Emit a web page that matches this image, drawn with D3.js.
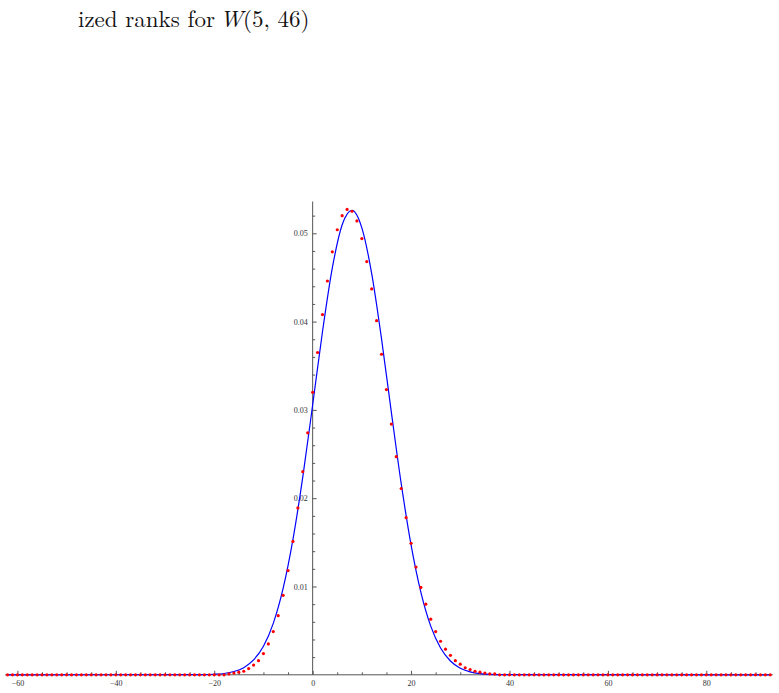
<!DOCTYPE html>
<html>
<head>
<meta charset="utf-8">
<script src="https://d3js.org/d3.v7.min.js"></script>
<style>
  body { margin: 0; background: #fff; }
  svg { display: block; }
  .caption { font-family: "Latin Modern Roman", "Liberation Serif", serif; font-size: 23px; fill: #111; }
  .tick text { font-family: "Times New Roman", "Liberation Serif", serif; font-size: 8px; fill: #333; }
</style>
</head>
<body>
<div id="plot"></div>
<script>
const svgWidth = 779;
const svgHeight = 693;

// Red points: one per centered rank, from -62 to 93
var rankStart = -62;
var rankProbs = [
  0, 0, 0, 0, 0, 0, 0, 0, 0, 0, 0, 0, 0, 0, 0,                 // -62 .. -48
  0, 0, 0, 0, 0, 0, 0, 0, 0, 0, 0, 0, 0, 0, 0,                 // -47 .. -33
  0, 0, 0, 0, 0, 0, 0, 0, 0, 0, 0, 0, 0, 0, 0,                 // -32 .. -18
  0.0001, 0.0002, 0.0003, 0.0004, 0.0007, 0.0011, 0.0016, 0.0024,   // -17 .. -10
  0.0035, 0.0049, 0.0067, 0.0090, 0.0118, 0.0151, 0.0189, 0.0230,   // -9 .. -2
  0.0274, 0.0320, 0.0365, 0.0408, 0.0446, 0.0479, 0.0504, 0.0520,   // -1 .. 6
  0.0527, 0.0525, 0.0514, 0.0494, 0.0468, 0.0437, 0.0401, 0.0363,   // 7 .. 14
  0.0323, 0.0284, 0.0247, 0.0211, 0.0178, 0.0149, 0.0122, 0.0099,   // 15 .. 22
  0.0080, 0.0063, 0.0049, 0.0038, 0.0029, 0.0022, 0.0016, 0.0012,   // 23 .. 30
  0.0008, 0.0006, 0.0004, 0.0003, 0.0002, 0.0001, 0.0001,           // 31 .. 37
  0, 0, 0, 0, 0, 0, 0, 0, 0, 0, 0, 0, 0, 0,                    // 38 .. 51
  0, 0, 0, 0, 0, 0, 0, 0, 0, 0, 0, 0, 0, 0,                    // 52 .. 65
  0, 0, 0, 0, 0, 0, 0, 0, 0, 0, 0, 0, 0, 0,                    // 66 .. 79
  0, 0, 0, 0, 0, 0, 0, 0, 0, 0, 0, 0, 0, 0                     // 80 .. 93
];

// Blue approximating curve
var curveX = [-62, -22, -20, -18, -16, -14, -12, -10, -8, -6, -4, -2, 0, 2, 4, 6, 8,
  10, 12, 14, 16, 18, 20, 22, 24, 26, 28, 30, 32, 34, 36, 38, 93];
var curveY = [0, 0.00002, 0.00006, 0.00015, 0.00037, 0.00081, 0.00168, 0.00323,
  0.00583, 0.00979, 0.01534, 0.02241, 0.03056, 0.03885, 0.04608, 0.05097, 0.05260,
  0.05062, 0.04544, 0.03805, 0.02972, 0.02165, 0.01471, 0.00933, 0.00551, 0.00304,
  0.00156, 0.00075, 0.00034, 0.00014, 0.00005, 0.00002, 0];

// Axis ticks
var xMajorTicks = [-60, -40, -20, 0, 20, 40, 60, 80];
var xMinorTicks = [-55, -50, -45, -35, -30, -25, -15, -10, -5, 5, 10, 15, 25, 30, 35,
  45, 50, 55, 65, 70, 75, 85, 90];
var yMajorTicks = [0.01, 0.02, 0.03, 0.04, 0.05];
var yMinorTicks = [0.002, 0.004, 0.006, 0.008, 0.012, 0.014, 0.016, 0.018, 0.022,
  0.024, 0.026, 0.028, 0.032, 0.034, 0.036, 0.038, 0.042, 0.044, 0.046, 0.048, 0.052];

var svg = d3.select("#plot")
  .append("svg")
  .attr("width", svgWidth)
  .attr("height", svgHeight);

// caption fragment at the top of the page
var caption = svg.append("text")
  .attr("class", "caption")
  .attr("x", 78)
  .attr("y", 27);
caption.append("tspan").text("ized ranks for");
caption.append("tspan").attr("dx", 5).attr("font-style", "italic").text("W");
caption.append("tspan").text("(5, 46)");

// scales
var xScale = d3.scaleLinear()
  .domain([-60, 80])
  .range([17.4, 706.3]);

var yScale = d3.scaleLinear()
  .domain([0, 0.05])
  .range([674.8, 233.3]);

// ------- AXES -------
var axisColor = "#555";

// x axis line
svg.append("line")
  .attr("x1", xScale(-62.5))
  .attr("x2", xScale(93.5))
  .attr("y1", yScale(0))
  .attr("y2", yScale(0))
  .attr("stroke", axisColor)
  .attr("stroke-width", 1);

// y axis line
svg.append("line")
  .attr("x1", xScale(0))
  .attr("x2", xScale(0))
  .attr("y1", yScale(0))
  .attr("y2", yScale(0.0536))
  .attr("stroke", axisColor)
  .attr("stroke-width", 1);

// x ticks point up, labels below
var xAxis = d3.axisBottom(xScale)
  .tickValues(xMajorTicks)
  .tickSize(-4)
  .tickPadding(8)
  .tickFormat(d => d < 0 ? "\u2212" + Math.abs(d) : d);

var xAxisGroup = svg.append("g")
  .attr("transform", `translate(0, ${yScale(0)})`)
  .call(xAxis);
xAxisGroup.select(".domain").remove();
xAxisGroup.selectAll("line").attr("stroke", axisColor);
xAxisGroup.selectAll("text").attr("y", 6);

var xMinorAxis = d3.axisBottom(xScale)
  .tickValues(xMinorTicks)
  .tickSize(-2.5)
  .tickFormat("");
var xMinorGroup = svg.append("g")
  .attr("transform", `translate(0, ${yScale(0)})`)
  .call(xMinorAxis);
xMinorGroup.select(".domain").remove();
xMinorGroup.selectAll("line").attr("stroke", axisColor);

// y ticks point right, labels left
var yAxis = d3.axisLeft(yScale)
  .tickValues(yMajorTicks)
  .tickSize(-4)
  .tickPadding(5)
  .tickFormat(d3.format(".2f"));

var yAxisGroup = svg.append("g")
  .attr("transform", `translate(${xScale(0)}, 0)`)
  .call(yAxis);
yAxisGroup.select(".domain").remove();
yAxisGroup.selectAll("line").attr("stroke", axisColor);

var yMinorAxis = d3.axisLeft(yScale)
  .tickValues(yMinorTicks)
  .tickSize(-2.5)
  .tickFormat("");
var yMinorGroup = svg.append("g")
  .attr("transform", `translate(${xScale(0)}, 0)`)
  .call(yMinorAxis);
yMinorGroup.select(".domain").remove();
yMinorGroup.selectAll("line").attr("stroke", axisColor);

// ------- CURVE -------
var curveData = curveX.map((x, i) => ({ x: x, y: curveY[i] }));

var line = d3.line()
  .x(d => xScale(d.x))
  .y(d => yScale(d.y))
  .curve(d3.curveMonotoneX);

svg.append("path")
  .datum(curveData)
  .attr("d", line)
  .attr("fill", "none")
  .attr("stroke", "#0000ff")
  .attr("stroke-width", 1.2);

// ------- POINTS -------
var pointData = rankProbs.map((p, i) => ({ x: rankStart + i, y: p }));

svg.append("g")
  .selectAll("circle")
  .data(pointData)
  .enter()
  .append("circle")
  .attr("cx", d => xScale(d.x))
  .attr("cy", d => yScale(d.y))
  .attr("r", 1.6)
  .attr("fill", "#ff0000");
</script>
</body>
</html>
